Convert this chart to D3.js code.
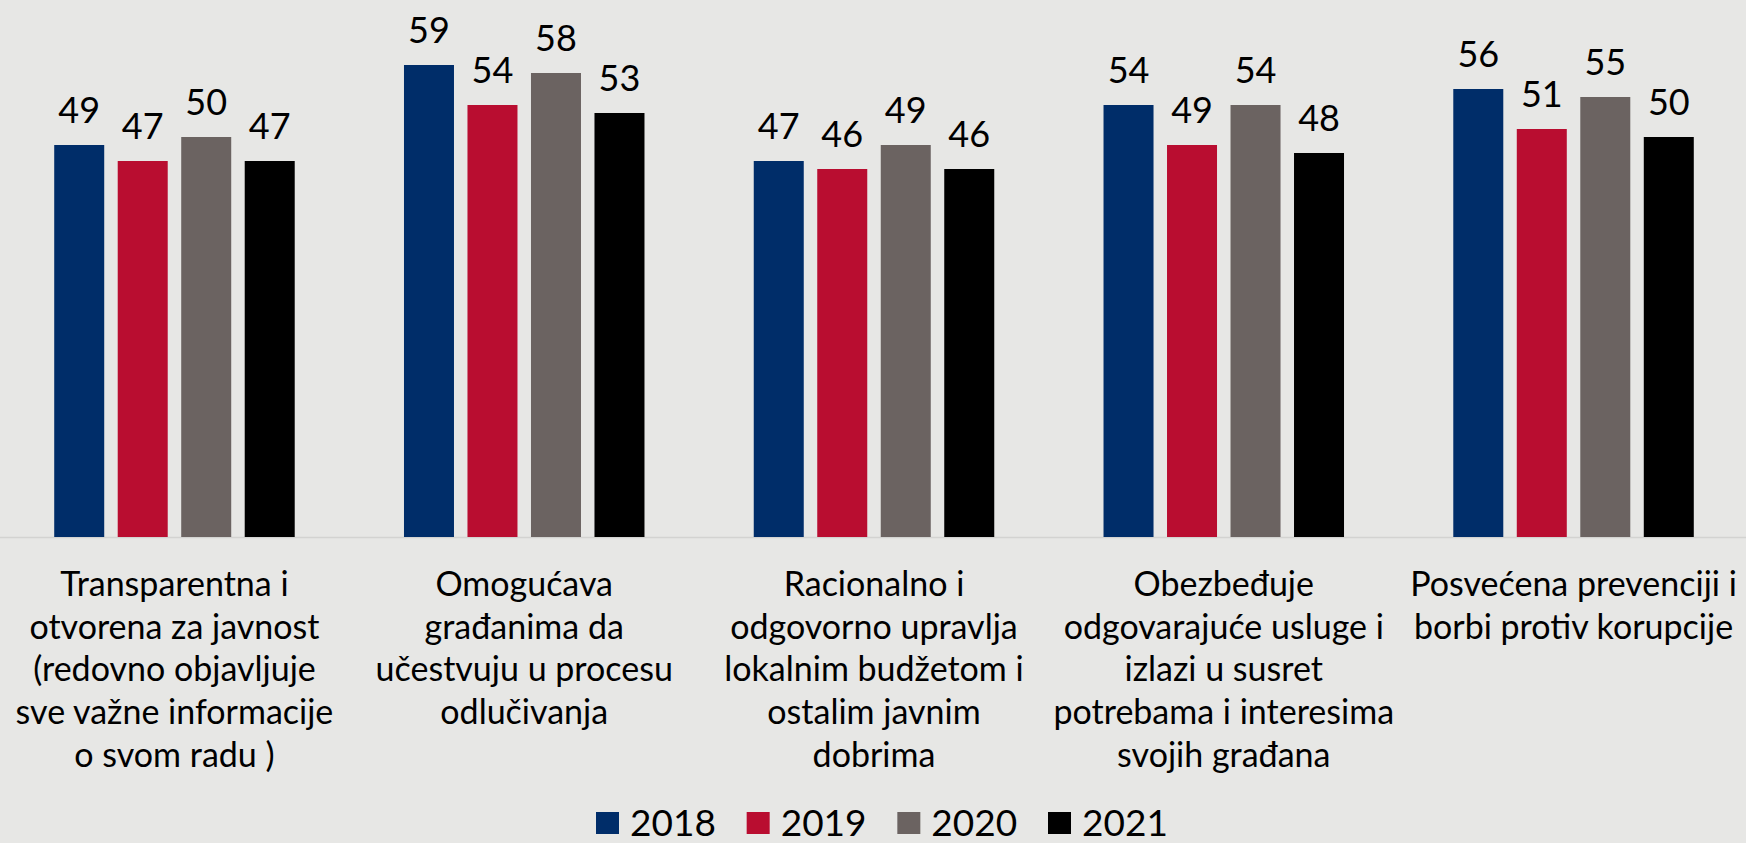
<!DOCTYPE html>
<html>
<head>
<meta charset="utf-8">
<style>
  body { margin: 0; background: #e7e7e5; }
  svg { display: block; }
  text { font-family: Lato, "Noto Sans", sans-serif; fill: #000; }
</style>
<script src="https://cdn.jsdelivr.net/npm/d3@7/dist/d3.min.js"></script>
</head>
<body>
<svg width="1746" height="843"></svg>
<script>

// categories (label lines as they break in the chart)
var categories = [
  ["Transparentna i", "otvorena za javnost", "(redovno objavljuje", "sve važne informacije", "o svom radu )"],
  ["Omogućava", "građanima da", "učestvuju u procesu", "odlučivanja"],
  ["Racionalno i", "odgovorno upravlja", "lokalnim budžetom i", "ostalim javnim", "dobrima"],
  ["Obezbeđuje", "odgovarajuće usluge i", "izlazi u susret", "potrebama i interesima", "svojih građana"],
  ["Posvećena prevenciji i", "borbi protiv korupcije"]
];

var years = ["2018", "2019", "2020", "2021"];

var values2018 = [49, 59, 47, 54, 56];
var values2019 = [47, 54, 46, 49, 51];
var values2020 = [50, 58, 49, 54, 55];
var values2021 = [47, 53, 46, 48, 50];

var colors = ["#002d69", "#b90d30", "#6b6361", "#000000"];

var series = [values2018, values2019, values2020, values2021];

var svg = d3.select("svg"),
    width = +svg.attr("width"),
    height = +svg.attr("height");

var x0 = d3.scaleBand()
    .domain(d3.range(categories.length))
    .range([0, 1748])
    .paddingInner(0.3124)
    .paddingOuter(0.155);

var x1 = d3.scaleBand()
    .domain(years)
    .range([0, x0.bandwidth()])
    .paddingInner(0.2126)
    .paddingOuter(0);

var y = d3.scaleLinear()
    .domain([0, 60])
    .range([537, 57]);

var color = d3.scaleOrdinal().domain(years).range(colors);

// one record per bar
var bars = [];
categories.forEach(function(c, i) {
  years.forEach(function(yr, j) {
    bars.push({ cat: i, year: yr, value: series[j][i] });
  });
});

// axis line
svg.append("line")
    .attr("x1", 0)
    .attr("x2", width)
    .attr("y1", y(0) + 0.5)
    .attr("y2", y(0) + 0.5)
    .attr("stroke", "#d3d3d1")
    .attr("stroke-width", 1.5);

var g = svg.append("g");

g.selectAll("rect")
  .data(bars)
  .enter().append("rect")
    .attr("x", function(d) { return x0(d.cat) + x1(d.year); })
    .attr("y", function(d) { return y(d.value); })
    .attr("width", x1.bandwidth())
    .attr("height", function(d) { return y(0) - y(d.value); })
    .attr("fill", function(d) { return color(d.year); });

g.selectAll("text.val")
  .data(bars)
  .enter().append("text")
    .attr("class", "val")
    .attr("x", function(d) { return x0(d.cat) + x1(d.year) + x1.bandwidth() / 2; })
    .attr("y", function(d) { return y(d.value) - 22; })
    .attr("text-anchor", "middle")
    .style("font-size", "36px")
    .text(function(d) { return d.value; });

// category labels
var lab = svg.selectAll("text.cat")
  .data(categories)
  .enter().append("text")
    .attr("class", "cat")
    .attr("text-anchor", "middle")
    .attr("x", function(d, i) { return x0(i) + x0.bandwidth() / 2; })
    .attr("y", 596)
    .style("font-size", "34px");

lab.selectAll("tspan")
  .data(function(d) { return d; })
  .enter().append("tspan")
    .attr("x", function() { return d3.select(this.parentNode).attr("x"); })
    .attr("dy", function(d, i) { return i === 0 ? 0 : 42.7; })
    .text(function(d) { return d; });

// legend
var lx = d3.scalePoint()
    .domain(years)
    .range([596, 1048]);

var leg = svg.selectAll("g.leg")
  .data(years)
  .enter().append("g")
    .attr("class", "leg")
    .attr("transform", function(d) { return "translate(" + lx(d) + ",812)"; });

leg.append("rect")
    .attr("width", 23)
    .attr("height", 22)
    .attr("fill", function(d) { return color(d); });

leg.append("text")
    .attr("x", 34)
    .attr("y", 24)
    .style("font-size", "37px")
    .text(function(d) { return d; });

</script>
</head>
